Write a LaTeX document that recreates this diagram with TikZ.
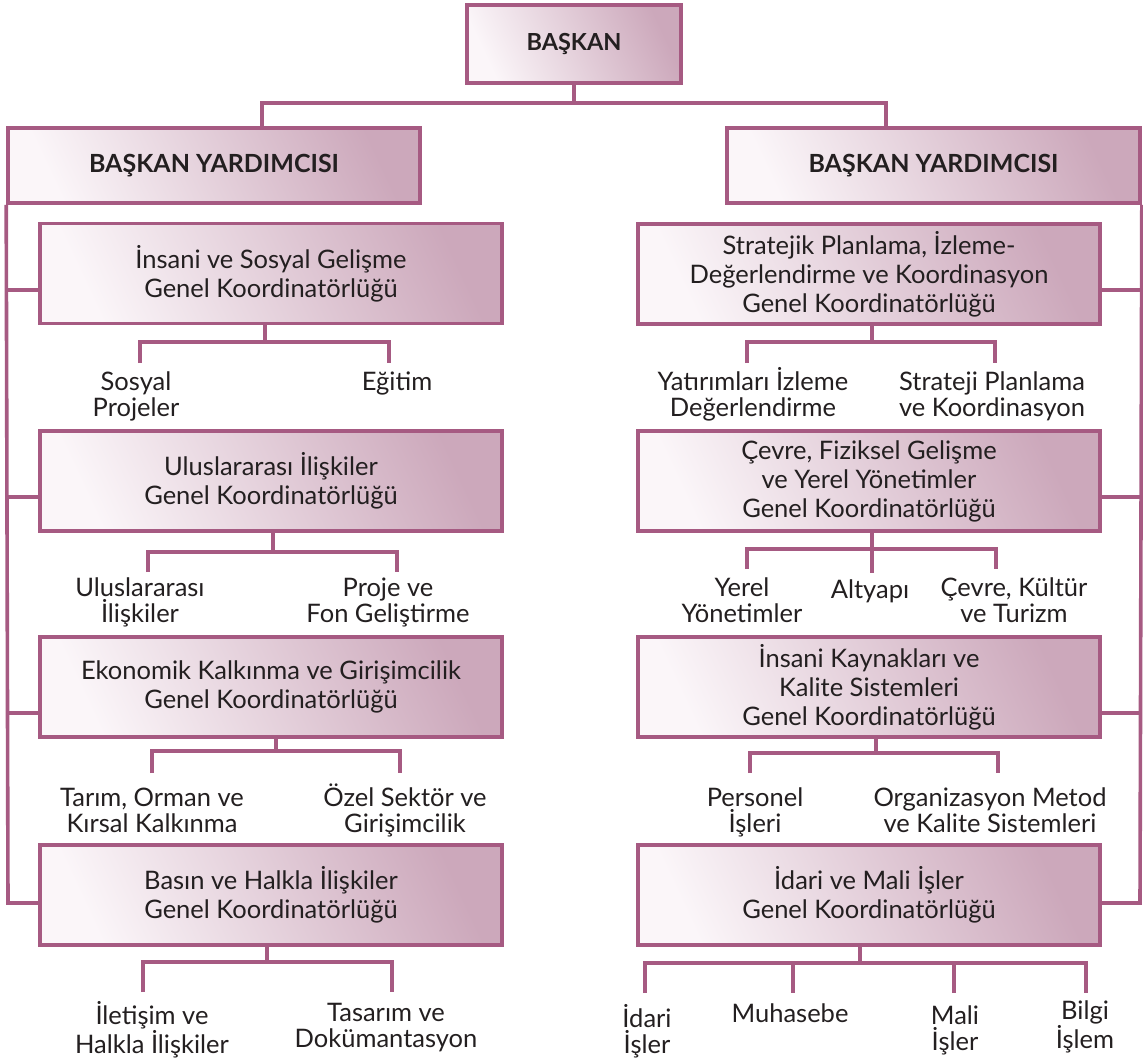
\documentclass[tikz,border=0pt]{standalone}
\usepackage{fontspec}
\setmainfont{Lato}
\definecolor{lineC}{HTML}{A65A82}
\definecolor{fillL}{HTML}{FBF6F9}
\definecolor{fillD}{HTML}{CCA8BB}
\definecolor{txtC}{HTML}{231F20}
\begin{document}
\begin{tikzpicture}[x=1pt,y=-1pt,
  box/.style={draw=lineC, line width=3.6pt, left color=fillL, right color=fillD, shading angle=115,
    align=center, inner sep=0pt, text=txtC, font=\fontsize{25.5}{29}\selectfont},
  coord/.style={box, minimum width=462pt, minimum height=100pt},
  vpbox/.style={box, minimum width=412pt, minimum height=75pt, font=\fontsize{25}{29}\selectfont\bfseries},
  conn/.style={draw=lineC, line width=3.6pt},
  lbl/.style={align=center, anchor=base, inner sep=0pt, text=txtC, font=\fontsize{25.5}{26}\selectfont}]
\useasboundingbox (0,0) rectangle (1143,1059);

% top
\node[box, minimum width=214pt, minimum height=78pt, font=\fontsize{23.5}{28}\selectfont\bfseries] (baskan) at (574,44) {BAŞKAN};
\node[vpbox] (vpL) at (214,165.5) {BAŞKAN YARDIMCISI};
\node[vpbox, minimum width=413pt] (vpR) at (933.5,165.5) {BAŞKAN YARDIMCISI};

\coordinate (busL) at (262,103);
\coordinate (busR) at (886,103);
\draw[conn] (baskan.south) -- (baskan.south |- busL);
\draw[conn] (busL |- vpL.north) -- (busL) -- (busR) -- (busR |- vpR.north);

% left coordinators
\node[coord] (L1) at (271,273.5) {İnsani ve Sosyal Gelişme\\Genel Koordinatörlüğü};
\node[coord] (L2) at (271,481) {Uluslararası İlişkiler\\Genel Koordinatörlüğü};
\node[coord] (L3) at (271,687) {Ekonomik Kalkınma ve Girişimcilik\\Genel Koordinatörlüğü};
\node[coord] (L4) at (271,895) {Basın ve Halkla İlişkiler\\Genel Koordinatörlüğü};

% right coordinators
\node[coord] (R1) at (869,274) {Stratejik Planlama, İzleme-\\Değerlendirme ve Koordinasyon\\Genel Koordinatörlüğü};
\node[coord] (R2) at (869,481) {Çevre, Fiziksel Gelişme\\ve Yerel Yönetimler\\Genel Koordinatörlüğü};
\node[coord] (R3) at (869,687) {İnsani Kaynakları ve\\Kalite Sistemleri\\Genel Koordinatörlüğü};
\node[coord] (R4) at (869,895) {İdari ve Mali İşler\\Genel Koordinatörlüğü};

% spines
\coordinate (jL1) at (8,290);
\coordinate (jL2) at (8,497);
\coordinate (jL3) at (8,713);
\coordinate (jL4) at (8,903);
\draw[conn] (vpL.south west) -- (jL4) -- (jL4 -| L4.west);
\draw[conn] (jL1) -- (jL1 -| L1.west);
\draw[conn] (jL2) -- (jL2 -| L2.west);
\draw[conn] (jL3) -- (jL3 -| L3.west);

\coordinate (jR1) at (1140,290);
\coordinate (jR2) at (1140,497);
\coordinate (jR3) at (1140,713);
\coordinate (jR4) at (1140,903);
\draw[conn] (vpR.south east) -- (jR4) -- (jR4 -| R4.east);
\draw[conn] (jR1) -- (jR1 -| R1.east);
\draw[conn] (jR2) -- (jR2 -| R2.east);
\draw[conn] (jR3) -- (jR3 -| R3.east);

% labels (base = baseline of last line)
\node[lbl] (a1) at (136,416) {Sosyal\\Projeler};
\node[lbl] (a2) at (397,390) {Eğitim};
\node[lbl] (b1) at (140,622) {Uluslararası\\İlişkiler};
\node[lbl] (b2) at (388,622) {Proje ve\\Fon Geliştirme};
\node[lbl] (c1) at (152,832) {Tarım, Orman ve\\Kırsal Kalkınma};
\node[lbl] (c2) at (405,832) {Özel Sektör ve\\Girişimcilik};
\node[lbl] (d1) at (152,1053) {İletişim ve\\Halkla İlişkiler};
\node[lbl] (d2) at (386,1047) {Tasarım ve\\Dokümantasyon};

\node[lbl] (e1) at (753,416) {Yatırımları İzleme\\Değerlendirme};
\node[lbl] (e2) at (992,416) {Strateji Planlama\\ve Koordinasyon};
\node[lbl] (f1) at (742,622) {Yerel\\Yönetimler};
\node[lbl] (f2) at (870,598) {Altyapı};
\node[lbl] (f3) at (1014,622) {Çevre, Kültür\\ve Turizm};
\node[lbl] (g1) at (755,832) {Personel\\İşleri};
\node[lbl] (g2) at (990,832) {Organizasyon Metod\\ve Kalite Sistemleri};
\node[lbl] (h1) at (647,1053) {İdari\\İşler};
\node[lbl] (h2) at (790,1022) {Muhasebe};
\node[lbl] (h3) at (955,1050) {Mali\\İşler};
\node[lbl] (h4) at (1085,1048) {Bilgi\\İşlem};

% sub connectors
\draw[conn] (L1.south -| 265,0) -- (265,342);
\draw[conn] (140,363) -- (140,342) -- (389,342) -- (389,363);
\draw[conn] (L2.south -| 273,0) -- (273,552);
\draw[conn] (148,572) -- (148,552) -- (397,552) -- (397,572);
\draw[conn] (L3.south -| 276,0) -- (276,751);
\draw[conn] (152,773) -- (152,751) -- (400,751) -- (400,773);
\draw[conn] (L4.south -| 267,0) -- (267,962);
\draw[conn] (143,992) -- (143,962) -- (392,962) -- (392,992);

\draw[conn] (R1.south -| 872,0) -- (872,342);
\draw[conn] (747,363) -- (747,342) -- (995,342) -- (995,363);
\draw[conn] (R2.south -| 872,0) -- (872,573);
\draw[conn] (747,569) -- (747,549) -- (996,549) -- (996,569);
\draw[conn] (R3.south -| 876,0) -- (876,753);
\draw[conn] (750,773) -- (750,753) -- (998,753) -- (998,773);
\draw[conn] (R4.south -| 860,0) -- (860,963);
\draw[conn] (645,993) -- (645,963) -- (1086,963) -- (1086,993);
\draw[conn] (793,963) -- (793,993);
\draw[conn] (954,963) -- (954,993);
\end{tikzpicture}
\end{document}
